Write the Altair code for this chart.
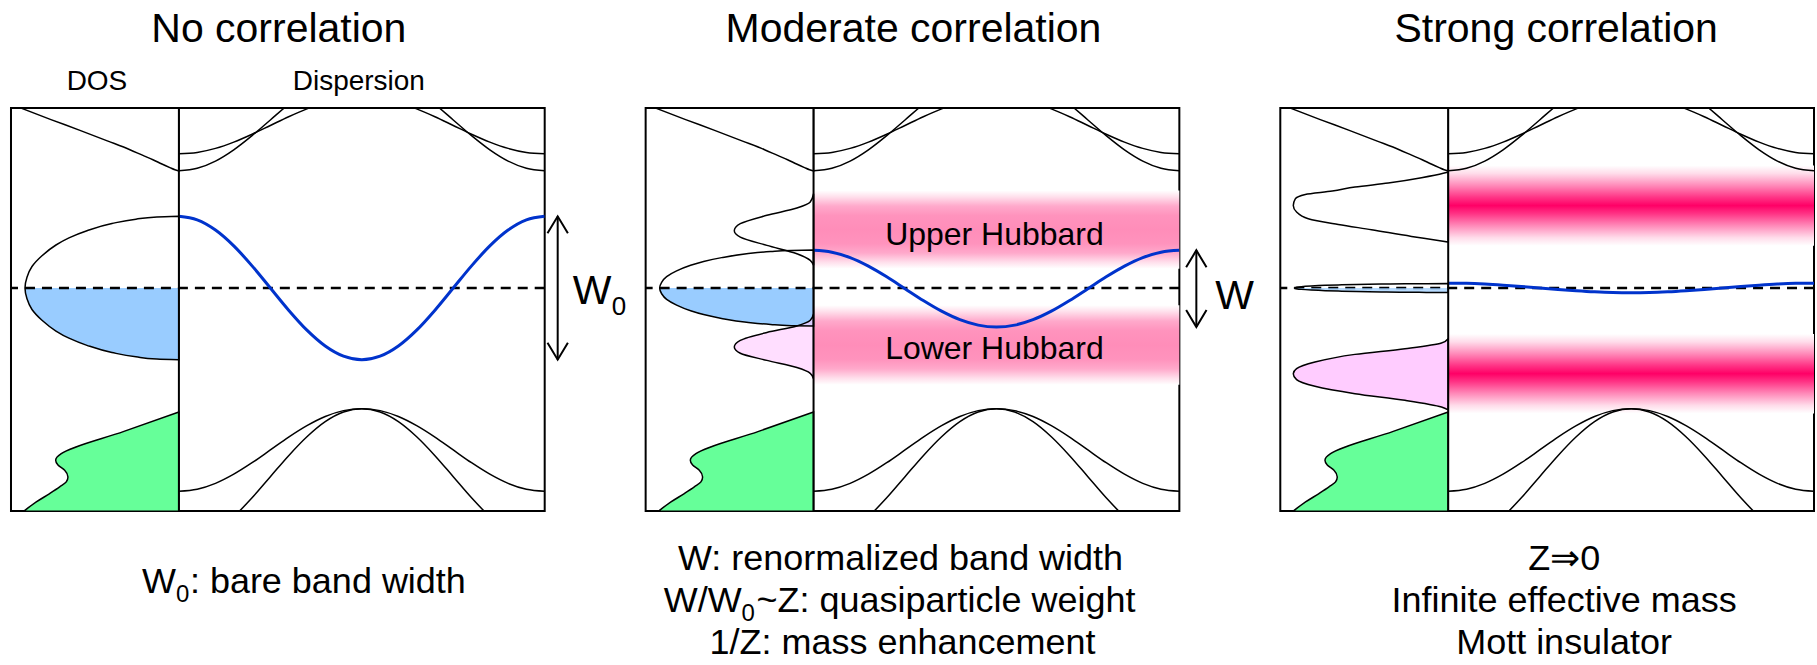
import altair as alt
import pandas as pd

FONT = "Liberation Sans"

# size of one panel: DOS strip on the left, dispersion box on the right (pixels)
DOS_WIDTH = 168
DISP_WIDTH = 366
PANEL_HEIGHT = 403

# energy window of every panel, Fermi level at 0
E_RANGE = [-3.11, 2.51]

# momentum along the first half of the path (fraction of the path);
# every band is mirror-symmetric about the middle of the path
K_HALF = [0.0, 0.05, 0.1, 0.15, 0.2, 0.25, 0.3, 0.35, 0.4, 0.45, 0.5]

# remote bands, identical in the three panels
BAND_UPPER_1 = [1.873, 1.892, 1.948, 2.036, 2.146, 2.268, 2.390, 2.500, 2.588, 2.644, 2.663]
BAND_UPPER_2 = [1.635, 1.670, 1.771, 1.928, 2.126, 2.345, 2.564, 2.762, 2.919, 3.020, 3.055]
BAND_LOWER_1 = [-2.836, -2.808, -2.726, -2.598, -2.438, -2.260, -2.081, -1.921, -1.793, -1.711, -1.683]
BAND_LOWER_2 = [-3.583, -3.537, -3.402, -3.191, -2.927, -2.633, -2.339, -2.075, -1.864, -1.730, -1.683]

# band crossing the Fermi level
QP_BAND_FREE = [1.0, 0.951, 0.809, 0.588, 0.309, 0.0, -0.309, -0.588, -0.809, -0.951, -1.0]
QP_BAND_MODERATE = [0.526, 0.500, 0.424, 0.305, 0.156, -0.009, -0.174, -0.323, -0.442, -0.518, -0.544]
QP_BAND_STRONG = [0.068, 0.065, 0.055, 0.040, 0.022, 0.001, -0.020, -0.038, -0.053, -0.063, -0.066]

# DOS of the upper remote bands
DOS_UPPER_E = [1.632, 1.65, 1.68, 1.73, 1.79, 1.85, 1.93, 2.05, 2.2, 2.35, 2.51]
DOS_UPPER_W = [0, 4, 9, 17, 26, 36, 49, 71, 99, 128, 158]

# DOS of the lower (filled) remote bands
DOS_LOWER_E = [-3.115, -2.985, -2.868, -2.775, -2.706, -2.636, -2.543, -2.47, -2.403, -2.36, -2.31, -2.0, -1.73]
DOS_LOWER_W = [155.3, 142.7, 129.3, 119.3, 112.7, 111, 114.3, 121, 123.3, 122, 117.7, 55, 0]

# quasiparticle DOS
QP_DOS_W = [0, 22, 43, 67, 92, 110, 123, 137, 147, 152, 154, 152, 147, 137, 123, 110, 92, 67, 43, 22, 0]
QP_DOS_E_FREE = [-1.0, -0.99, -0.96, -0.9, -0.8, -0.7, -0.6, -0.45, -0.3, -0.15, 0.0,
                 0.15, 0.3, 0.45, 0.6, 0.7, 0.8, 0.9, 0.96, 0.99, 1.0]
QP_DOS_E_MODERATE = [-0.53, -0.525, -0.509, -0.477, -0.424, -0.371, -0.318, -0.239, -0.159, -0.08, 0.0,
                     0.08, 0.159, 0.239, 0.318, 0.371, 0.424, 0.477, 0.509, 0.525, 0.53]
QP_DOS_E_STRONG = [-0.062, -0.061, -0.06, -0.056, -0.05, -0.043, -0.037, -0.028, -0.019, -0.009, 0.0,
                   0.009, 0.019, 0.028, 0.037, 0.043, 0.05, 0.056, 0.06, 0.061, 0.062]

# Hubbard-band DOS, moderate correlation
UHB_MOD_E = [0.316, 0.386, 0.479, 0.595, 0.711, 0.80, 0.897, 1.014, 1.116, 1.20, 1.316]
UHB_MOD_W = [0, 3.3, 16.7, 46.7, 73.3, 79.3, 73.3, 46.7, 16.7, 3.3, 0]
LHB_MOD_E = [-1.265, -1.19, -1.11, -1.01, -0.91, -0.823, -0.73, -0.62, -0.53, -0.45, -0.36]
LHB_MOD_W = [0, 3.3, 16.7, 46.7, 73.3, 79.3, 73.3, 46.7, 16.7, 3.3, 0]

# Hubbard-band DOS, strong correlation
UHB_STR_E = [0.641, 0.664, 0.72, 0.813, 0.887, 0.967, 1.06, 1.152, 1.245, 1.306, 1.353, 1.409, 1.464, 1.538, 1.60, 1.62]
UHB_STR_W = [0, 10, 36.7, 76.7, 110, 140, 151.7, 155, 153, 143, 116, 93.3, 60, 26.7, 5, 0]
LHB_STR_E = [-1.70, -1.66, -1.567, -1.474, -1.372, -1.279, -1.195, -1.125, -1.032, -0.926, -0.847, -0.767, -0.707]
LHB_STR_W = [0, 6.7, 43.3, 93.3, 133.3, 151.7, 155, 151.7, 133.3, 93.3, 43.3, 6.7, 0]

# incoherent Hubbard bands in the dispersion (lower edge, upper edge)
HUBBARD_MOD = [(0.27, 1.36), (-1.35, -0.24)]
HUBBARD_STR = [(0.59, 1.71), (-1.75, -0.64)]

# one horizontal pixel-like axis per panel: DOS grows leftwards from 0,
# momentum runs rightwards from 0 to DISP_WIDTH
xscale = alt.Scale(domain=[-DOS_WIDTH, DISP_WIDTH], nice=False, zero=False)
escale = alt.Scale(domain=E_RANGE, nice=False, zero=False)


def ey(field="E"):
    return alt.Y(f"{field}:Q", scale=escale, axis=None)


def dos_area(E, W, fill="white", fill_opacity=1.0, stroke=True):
    props = dict(orient="horizontal", interpolate="monotone", clip=True,
                 fill=fill, fillOpacity=fill_opacity)
    if stroke:
        props.update(stroke="black", strokeWidth=1.5)
    else:
        props.update(strokeWidth=0)
    df = pd.DataFrame({"E": E, "w": W})
    return alt.Chart(df).transform_calculate(xd="-datum.w").mark_area(**props).encode(
        x=alt.X("xd:Q", scale=xscale, axis=None, stack=None),
        x2=alt.X2Datum(0),
        y=ey(),
    )


def occupied(E, W):
    pairs = [(e, w) for e, w in zip(E, W) if e <= 0]
    return [p[0] for p in pairs], [p[1] for p in pairs]


def fermi_line():
    return alt.Chart().mark_rule(color="black", strokeWidth=2.3, strokeDash=[10, 7]).encode(
        y=alt.YDatum(0, scale=escale, axis=None)
    )


def divider():
    return alt.Chart().mark_rule(color="black", strokeWidth=2).encode(
        x=alt.XDatum(0, scale=xscale, axis=None)
    )


def bands(curves, color="black", width=1.5):
    rows = []
    ks = K_HALF + [round(1 - k, 3) for k in reversed(K_HALF[:-1])]
    for name, vals in curves.items():
        es = list(vals) + list(reversed(vals[:-1]))
        rows += [{"band": name, "k": k, "E": e} for k, e in zip(ks, es)]
    return (
        alt.Chart(pd.DataFrame(rows))
        .transform_calculate(xk=f"datum.k * {DISP_WIDTH}")
        .mark_line(interpolate="monotone", clip=True, color=color, strokeWidth=width)
        .encode(x=alt.X("xk:Q", scale=xscale, axis=None), y=ey(), detail="band:N")
    )


def stripes(edges, stops):
    grad = alt.LinearGradient(
        gradient="linear",
        stops=[alt.GradientStop(color=c, offset=o) for o, c in stops],
        x1=0, x2=0, y1=0, y2=1,
    )
    df = pd.DataFrame({"lo": [e[0] for e in edges], "hi": [e[1] for e in edges]})
    return alt.Chart(df).mark_rect(fill=grad, strokeWidth=0).encode(
        x=alt.XDatum(0, scale=xscale, axis=None),
        x2=alt.X2Datum(DISP_WIDTH),
        y=ey("hi"),
        y2="lo:Q",
    )


def txt(text, x, y, size, align="center"):
    return alt.Chart().mark_text(
        text=text, align=align, baseline="alphabetic", fontSize=size, font=FONT, color="black"
    ).encode(x=alt.value(x), y=alt.value(y))


def width_arrow(vals, x_px):
    top, bot = max(vals), min(vals)
    shaft = alt.Chart().mark_rule(color="black", strokeWidth=2).encode(
        x=alt.value(x_px),
        y=alt.YDatum(top, scale=escale, axis=None),
        y2=alt.Y2Datum(bot),
    )
    head = dict(filled=False, size=1156, strokeWidth=2, color="black", opacity=1)
    up = alt.Chart().mark_point(shape="M-0.6,1L0,0L0.6,1", **head).encode(
        x=alt.value(x_px), y=alt.YDatum(top, scale=escale, axis=None))
    down = alt.Chart().mark_point(shape="M-0.6,-1L0,0L0.6,-1", **head).encode(
        x=alt.value(x_px), y=alt.YDatum(bot, scale=escale, axis=None))
    return [shaft, up, down]


REMOTE = {"u1": BAND_UPPER_1, "u2": BAND_UPPER_2, "l1": BAND_LOWER_1, "l2": BAND_LOWER_2}
BLUE = "#0033CC"
BLUE_FILL = "#99CCFF"
GREEN = "#66FF99"
PINK = "#FFCCFF"

SOFT_PINK = [(0, "#FFFFFF"), (0.08, "#FFE0EC"), (0.2, "#FFA9CB"), (0.32, "#FF93BD"),
             (0.5, "#FF8DB9"), (0.68, "#FF93BD"), (0.8, "#FFA9CB"), (0.92, "#FFE0EC"), (1, "#FFFFFF")]
HOT_PINK = [(0, "#FFFFFF"), (0.1, "#FFDCEA"), (0.25, "#FF8AB9"), (0.4, "#FF3385"),
            (0.5, "#FF0066"), (0.6, "#FF3385"), (0.75, "#FF8AB9"), (0.9, "#FFDCEA"), (1, "#FFFFFF")]

D = DOS_WIDTH  # pixel offset of the divider inside a panel


def panel(layers):
    return alt.layer(*layers).properties(width=DOS_WIDTH + DISP_WIDTH, height=PANEL_HEIGHT)


# ---- no correlation ----
qe, qw = occupied(QP_DOS_E_FREE, QP_DOS_W)
p1 = panel([
    dos_area(qe, qw, fill=BLUE_FILL, stroke=False),
    dos_area(DOS_LOWER_E, DOS_LOWER_W, fill=GREEN),
    fermi_line(),
    dos_area(QP_DOS_E_FREE, QP_DOS_W, fill_opacity=0),
    dos_area(DOS_UPPER_E, DOS_UPPER_W, fill_opacity=0),
    bands(REMOTE),
    bands({"qp": QP_BAND_FREE}, color=BLUE, width=3),
    divider(),
    *width_arrow(QP_BAND_FREE, D + 379),
    txt("W", D + 394, 196, 41, align="left"),
    txt("0", D + 433, 207, 26, align="left"),
    txt("DOS", 86, -18, 28),
    txt("Dispersion", D + 180, -18, 28),
    txt("No correlation", D + 100, -66, 41),
    txt("W", D - 3, 485, 36, align="right"),
    txt("0", D - 3, 494, 24, align="left"),
    txt(": bare band width", D + 11, 485, 36, align="left"),
])

# ---- moderate correlation ----
qe, qw = occupied(QP_DOS_E_MODERATE, QP_DOS_W)
p2 = panel([
    dos_area(qe, qw, fill=BLUE_FILL, stroke=False),
    dos_area(LHB_MOD_E, LHB_MOD_W, fill=PINK, fill_opacity=0.65),
    dos_area(DOS_LOWER_E, DOS_LOWER_W, fill=GREEN),
    stripes(HUBBARD_MOD, SOFT_PINK),
    fermi_line(),
    dos_area(QP_DOS_E_MODERATE, QP_DOS_W, fill_opacity=0),
    dos_area(UHB_MOD_E, UHB_MOD_W, fill_opacity=0),
    dos_area(DOS_UPPER_E, DOS_UPPER_W, fill_opacity=0),
    bands(REMOTE),
    bands({"qp": QP_BAND_MODERATE}, color=BLUE, width=3),
    divider(),
    txt("Upper Hubbard", D + 181, 137, 32),
    txt("Lower Hubbard", D + 181, 251, 32),
    *width_arrow(QP_BAND_MODERATE, D + 383),
    txt("W", D + 402, 201, 41, align="left"),
    txt("Moderate correlation", D + 100, -66, 41),
    txt("W: renormalized band width", D + 87, 462, 36),
    txt("W/W", D - 72, 504, 36, align="right"),
    txt("0", D - 72, 513, 24, align="left"),
    txt("~Z: quasiparticle weight", D - 57, 504, 36, align="left"),
    txt("1/Z: mass enhancement", D + 89, 546, 36),
])

# ---- strong correlation ----
qe, qw = occupied(QP_DOS_E_STRONG, QP_DOS_W)
p3 = panel([
    dos_area(LHB_STR_E, LHB_STR_W, fill=PINK),
    dos_area(DOS_LOWER_E, DOS_LOWER_W, fill=GREEN),
    stripes(HUBBARD_STR, HOT_PINK),
    fermi_line(),
    dos_area(qe, qw, fill=BLUE_FILL, fill_opacity=0.7, stroke=False),
    dos_area(QP_DOS_E_STRONG, QP_DOS_W, fill_opacity=0),
    dos_area(UHB_STR_E, UHB_STR_W, fill_opacity=0),
    dos_area(DOS_UPPER_E, DOS_UPPER_W, fill_opacity=0),
    bands(REMOTE),
    bands({"qp": QP_BAND_STRONG}, color=BLUE, width=3),
    divider(),
    txt("Strong correlation", D + 108, -66, 41),
    txt("Z\u21d20", D + 116, 462, 36),
    txt("Infinite effective mass", D + 116, 504, 36),
    txt("Mott insulator", D + 116, 546, 36),
])

chart = (
    alt.hconcat(p1, p2, p3, spacing=101, bounds="flush")
    .configure_view(stroke="black", strokeWidth=2)
    .properties(padding={"left": 8, "top": 8, "right": 0, "bottom": 0}, background="white")
)

chart.save("out.html", embed_options={"renderer": "svg", "actions": False})
